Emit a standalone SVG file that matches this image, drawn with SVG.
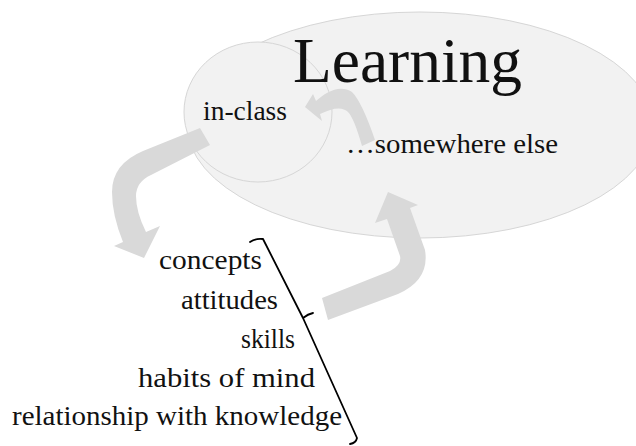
<svg xmlns="http://www.w3.org/2000/svg" width="636" height="446" viewBox="0 0 636 446">
  <style>
    .lbl { font-family: "Liberation Serif", "Times New Roman", serif; fill: #111111; }
    .arrow { fill: #d9d9d9; stroke: none; }
    .bubble { fill: #f2f2f2; stroke: #d6d6d6; stroke-width: 1; }
  </style>
  <rect width="636" height="446" fill="#ffffff"/>
  <g id="node-learning">
    <ellipse class="bubble" cx="420" cy="125" rx="233" ry="113"/>
  </g>
  <g id="node-inclass">
    <ellipse class="bubble" cx="258" cy="112" rx="74" ry="70" fill="#f4f4f4" stroke="#cfcfcf"/>
    <text class="lbl" x="203" y="120" font-size="27" textLength="84" lengthAdjust="spacingAndGlyphs">in-class</text>
  </g>
  <g id="node-learning-text">
    <text class="lbl" x="293" y="82" font-size="64" textLength="229" lengthAdjust="spacingAndGlyphs">Learning</text>
    <text class="lbl" x="346" y="153" font-size="27" textLength="212" lengthAdjust="spacingAndGlyphs">…somewhere else</text>
  </g>
  <g id="node-outcomes">
    <text class="lbl" x="262" y="269" font-size="28" text-anchor="end" textLength="103" lengthAdjust="spacingAndGlyphs">concepts</text>
    <text class="lbl" x="278" y="309" font-size="28" text-anchor="end" textLength="97" lengthAdjust="spacingAndGlyphs">attitudes</text>
    <text class="lbl" x="295" y="348" font-size="28" text-anchor="end" textLength="54" lengthAdjust="spacingAndGlyphs">skills</text>
    <text class="lbl" x="315" y="387" font-size="28" text-anchor="end" textLength="177" lengthAdjust="spacingAndGlyphs">habits of mind</text>
    <text class="lbl" x="342" y="425" font-size="28" text-anchor="end" textLength="330" lengthAdjust="spacingAndGlyphs">relationship with knowledge</text>
    <path d="M250,242 Q256,238 263,239 L303,318 Q308,314 313,313 M303,318 L357,438 Q356,443 350,444" fill="none" stroke="#000000" stroke-width="1.8" stroke-linejoin="round" stroke-linecap="round"/>
  </g>
  <g id="connectors">
    <path class="arrow" d="M200,128 L143,151 Q112,164 112,192 Q112,215 123,242 L114,246 L144,258 L160,226 L146,232 Q136,212 136,196 Q136,182 151,175 L210,145 Z"/>
    <path class="arrow" d="M305,107 L313,94 L316,101 C326,92 340,84 352,92 Q362,102 375,140 L362,146 Q354,118 348,112 Q340,104 320,114 L322,121 Z"/>
    <path class="arrow" d="M322,298 L390,271 Q402,265 400,256 L387,219 L375,223 L388,192 L418,205 L410,208 L425,250 Q430,280 398,294 L328,320 Z"/>
  </g>
</svg>
